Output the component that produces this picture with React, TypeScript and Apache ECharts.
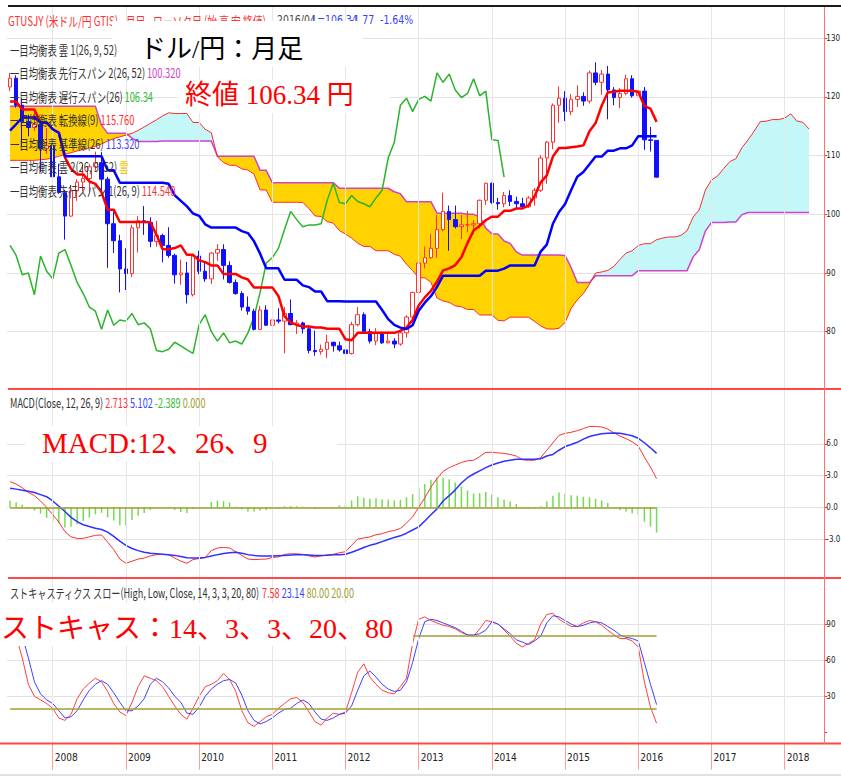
import React, { useEffect, useRef } from 'react';
import * as echarts from 'echarts';

// ---- categories: monthly, 2007-06 .. 2018-07 ----
const months: string[] = Array.from({ length: 134 }, (_, k) => {
  const m = 5 + k;
  const y = 2007 + Math.floor(m / 12);
  return `${y}-${String((m % 12) + 1).padStart(2, '0')}`;
});
const januaries = months.filter((m) => m.endsWith('-01'));

// ---- monthly candles [open, high, low, close], 2007-06 .. 2016-04 ----
const candles: number[][] = [
  // 2007
  [121.7, 124.1, 121.0, 123.2], [123.2, 123.7, 118.2, 118.6], [118.6, 119.8, 111.6, 115.8], [115.8, 117.0, 113.3, 114.8],
  [114.8, 117.9, 114.2, 115.3], [115.3, 115.5, 107.2, 111.2], [111.2, 114.7, 110.3, 111.7],
  // 2008
  [111.7, 111.8, 104.9, 106.4], [106.4, 108.6, 103.5, 103.7], [103.7, 104.2, 95.7, 99.7], [99.7, 105.0, 99.6, 104.0],
  [104.0, 106.0, 102.3, 105.5], [105.5, 108.6, 103.9, 106.1], [106.1, 108.6, 103.8, 108.1], [108.1, 110.7, 107.5, 108.8],
  [108.8, 110.6, 103.5, 106.0], [106.0, 106.4, 90.9, 98.4], [98.4, 100.5, 93.4, 95.5], [95.5, 96.5, 86.7, 90.7],
  // 2009
  [90.7, 94.2, 87.1, 89.9], [89.9, 98.2, 89.3, 97.7], [97.7, 99.7, 93.5, 98.9], [98.9, 101.4, 96.5, 98.6],
  [98.6, 99.5, 94.4, 95.4], [95.4, 98.9, 94.5, 96.4], [96.4, 96.7, 91.8, 94.7], [94.7, 97.8, 92.6, 93.0],
  [93.0, 93.3, 88.2, 89.7], [89.7, 92.3, 88.0, 90.0], [90.0, 91.9, 84.8, 86.3], [86.3, 93.2, 86.0, 92.9],
  // 2010
  [92.9, 93.8, 89.8, 90.3], [90.3, 91.9, 88.5, 89.0], [89.0, 93.6, 88.1, 93.4], [93.4, 94.9, 92.1, 94.0],
  [94.0, 94.9, 88.9, 91.3], [91.3, 92.0, 88.2, 88.4], [88.4, 88.9, 86.3, 86.5], [86.5, 86.9, 83.6, 84.2],
  [84.2, 86.0, 82.9, 83.5], [83.5, 83.9, 80.2, 80.4], [80.4, 84.4, 80.3, 83.7], [83.7, 84.5, 81.0, 81.1],
  // 2011
  [81.1, 83.7, 81.0, 82.0], [82.0, 84.0, 81.4, 81.8], [81.8, 84.2, 76.3, 83.1], [83.1, 85.5, 81.1, 81.2],
  [81.2, 82.0, 79.6, 81.5], [81.5, 81.7, 79.7, 80.5], [80.5, 81.1, 76.3, 76.8], [76.8, 80.2, 75.9, 76.6],
  [76.6, 77.8, 76.1, 77.0], [77.0, 79.5, 75.5, 78.2], [78.2, 78.3, 76.6, 77.6], [77.6, 78.3, 76.6, 76.9],
  // 2012
  [76.9, 77.5, 75.4, 76.3], [76.3, 81.7, 76.1, 81.2], [81.2, 84.2, 80.9, 82.9], [82.9, 83.3, 79.8, 80.0],
  [80.0, 80.5, 78.0, 78.4], [78.4, 80.6, 77.7, 79.8], [79.8, 80.0, 77.9, 78.1], [78.1, 79.6, 78.0, 78.4],
  [78.4, 78.9, 77.2, 77.9], [77.9, 80.4, 77.6, 79.8], [79.8, 82.8, 79.0, 82.5], [82.5, 86.8, 81.7, 86.7],
  // 2013
  [86.7, 91.8, 86.5, 91.7], [91.7, 94.5, 90.8, 92.6], [92.6, 96.7, 92.4, 94.2], [94.2, 99.9, 92.6, 97.4],
  [97.4, 103.7, 97.1, 100.5], [100.5, 101.5, 93.8, 99.1], [99.1, 101.5, 97.6, 97.9], [97.9, 99.9, 95.8, 98.2],
  [98.2, 100.6, 97.0, 98.2], [98.2, 99.0, 96.6, 98.4], [98.4, 102.5, 97.6, 102.4], [102.4, 105.4, 101.6, 105.3],
  // 2014
  [105.3, 105.4, 101.8, 102.0], [102.0, 102.8, 100.8, 101.8], [101.8, 103.8, 101.2, 103.2], [103.2, 104.1, 101.4, 102.2],
  [102.2, 103.0, 100.8, 101.8], [101.8, 102.8, 101.1, 101.3], [101.3, 103.1, 101.1, 102.8], [102.8, 104.5, 101.5, 104.1],
  [104.1, 110.1, 103.8, 109.6], [109.6, 112.5, 105.2, 112.3], [112.3, 118.9, 111.1, 118.6], [118.6, 121.8, 115.6, 119.8],
  // 2015
  [119.8, 121.0, 115.9, 117.5], [117.5, 120.5, 116.9, 119.6], [119.6, 122.0, 118.3, 120.1], [120.1, 120.8, 118.5, 119.3],
  [119.3, 124.5, 118.9, 124.1], [124.1, 125.9, 122.0, 122.5], [122.5, 124.6, 120.4, 123.9], [123.9, 125.3, 116.2, 121.2],
  [121.2, 121.7, 118.6, 119.9], [119.9, 121.5, 118.1, 120.6], [120.6, 123.8, 120.3, 123.1], [123.1, 123.7, 119.9, 120.2],
  // 2016
  [120.2, 121.7, 115.9, 121.0], [121.0, 121.7, 111.0, 112.7], [112.7, 114.9, 110.7, 112.6], [112.6, 112.6, 106.3, 106.34],
];

// ---- Ichimoku lines ----
const tenkan = [
  119.25, 119.25, 117.85, 117.85, 117.85, 115.65, 115.65, 114.5, 113.9, 109.7,
  107.75, 106.8, 106.8, 105.6, 105.2, 103.75, 100.8, 100.8, 98.7, 98.7,
  98.7, 98.7, 98.7, 98.65, 96.55, 94.05, 94.05, 94.25, 94.7, 93.1,
  93.1, 92.15, 91.85, 91.3, 91.3, 89.85, 89.85, 89.85, 89.25, 88.9,
  87.55, 87.55, 87.55, 87.55, 86.1, 82.6, 81.6, 81.15, 80.9, 80.9,
  80.7, 80.7, 80.5, 80.5, 80.5, 78.7, 78.55, 79.8, 79.8, 79.8,
  79.8, 79.8, 79.8, 79.8, 80.15, 80.7, 82.0, 84.45, 85.85, 86.95,
  88.55, 90.45, 90.8, 91.35, 92.7, 95.1, 97.25, 98.05, 99.0, 99.6,
  99.6, 100.6, 100.6, 101.0, 101.0, 101.5, 103.1, 105.45, 106.65, 109.85,
  111.3, 111.3, 111.45, 111.55, 111.75, 114.15, 115.55, 118.5, 120.75, 120.9,
  121.05, 121.05, 121.05, 120.9, 118.45, 118.0, 115.76,
];
const kijun = [
  114.25, 115.35, 116.5, 116.5, 116.5, 115.65, 115.65, 114.5, 113.9, 109.9,
  109.9, 109.9, 109.9, 109.9, 109.9, 109.9, 107.5, 107.5, 105.4, 105.4,
  105.4, 105.4, 105.4, 105.4, 105.4, 105.4, 105.2, 103.25, 102.3, 101.35,
  100.15, 99.75, 98.3, 97.75, 97.75, 97.75, 97.75, 97.75, 97.15, 96.8,
  95.4, 93.3, 90.8, 90.8, 90.8, 88.85, 88.85, 88.85, 87.9, 87.6,
  86.85, 86.85, 85.2, 85.2, 85.2, 85.15, 85.15, 85.15, 85.15, 85.15,
  85.15, 83.7, 82.15, 81.15, 80.7, 80.45, 81.1, 83.55, 84.95, 86.05,
  87.65, 89.55, 89.55, 89.55, 89.55, 89.55, 89.55, 89.55, 90.4, 90.4,
  90.4, 90.75, 91.3, 91.3, 91.3, 91.3, 91.3, 93.65, 94.85, 98.4,
  100.4, 101.75, 104.15, 106.4, 107.2, 108.55, 109.85, 109.85, 110.85, 110.85,
  111.25, 111.25, 111.75, 113.32, 113.32, 113.32, 113.32,
];
// leading spans, already shifted 25 months ahead (2007-06 .. 2018-05)
const senkouA = [
  109.2, 109.2, 109.2, 109.2, 109.2, 109.3, 109.4, 109.6, 109.9, 110.2,
  110.5, 110.8, 111.1, 111.3, 111.6, 112.0, 112.5, 112.9, 113.2, 113.5,
  113.8, 114.3, 114.9, 115.5, 116.1, 116.75, 117.3, 117.18, 117.18, 117.18,
  115.65, 115.65, 114.5, 113.9, 109.8, 108.83, 108.35, 108.35, 107.75, 107.55,
  106.83, 104.15, 104.15, 102.05, 102.05, 102.05, 102.05, 102.05, 102.03, 100.98,
  99.73, 99.63, 98.75, 98.5, 97.23, 96.63, 95.95, 95.08, 94.53, 94.53,
  93.8, 93.8, 93.8, 93.2, 92.85, 91.48, 90.43, 89.18, 89.18, 88.45,
  85.73, 85.23, 85.0, 84.4, 84.25, 83.78, 83.78, 82.85, 82.85, 82.85,
  81.93, 81.85, 82.48, 82.48, 82.48, 82.48, 81.75, 80.98, 80.48, 80.43,
  80.58, 81.55, 84.0, 85.4, 86.5, 88.1, 90.0, 90.18, 90.45, 91.13,
  92.33, 93.4, 93.8, 94.7, 95.0, 95.0, 95.68, 95.95, 96.15, 96.15,
  96.4, 97.2, 99.55, 100.75, 104.13, 105.85, 106.53, 107.8, 108.98, 109.48,
  111.35, 112.7, 114.18, 115.8, 115.88, 116.15, 116.15, 116.4, 117.13, 115.9,
  115.68, 114.54,
];
const senkouB = [
  118.4, 118.4, 118.4, 118.4, 118.4, 118.4, 118.4, 118.4, 118.4, 118.4,
  118.4, 118.4, 118.4, 118.4, 118.4, 115.2, 113.8, 113.8, 113.8, 113.8,
  113.0, 112.4, 112.4, 112.4, 112.4, 112.5, 112.5, 112.5, 112.5, 112.5,
  112.5, 112.5, 112.5, 112.5, 109.9, 109.9, 109.9, 109.9, 109.9, 109.9,
  109.9, 107.5, 107.5, 105.4, 105.4, 105.4, 105.4, 105.4, 105.4, 105.4,
  105.4, 105.4, 105.4, 105.4, 104.45, 104.45, 104.45, 104.45, 104.45, 104.45,
  104.45, 104.45, 104.45, 103.85, 103.5, 102.15, 102.15, 102.15, 102.15, 102.15,
  100.2, 100.2, 100.2, 100.2, 100.2, 100.0, 100.0, 99.6, 97.65, 96.7,
  96.65, 95.45, 95.05, 93.6, 93.05, 93.05, 93.05, 93.05, 93.05, 93.05,
  93.05, 93.0, 90.9, 88.4, 88.4, 88.4, 89.55, 89.55, 89.55, 89.55,
  89.55, 89.55, 89.55, 90.4, 90.4, 90.4, 90.4, 90.4, 90.4, 90.4,
  90.4, 90.4, 92.75, 93.95, 97.15, 98.6, 98.6, 98.6, 98.7, 98.7,
  99.95, 100.32, 100.32, 100.32, 100.32, 100.32, 100.32, 100.32, 100.32, 100.32,
  100.32, 100.32,
];

// ---- MACD (12, 26, 9) ----
const macd = [
  2.43, 2.2, 1.85, 1.4, 1.1, 0.6, 0.0, -0.7, -1.4, -2.3,
  -2.8, -2.95, -2.94, -2.8, -2.65, -2.62, -3.3, -4.0, -4.9, -5.3,
  -5.1, -4.9, -4.8, -4.6, -4.48, -4.45, -4.5, -4.8, -5.1, -5.3,
  -4.95, -4.85, -4.75, -4.1, -3.85, -3.8, -3.85, -4.2, -4.55, -4.9,
  -4.95, -4.92, -4.9, -4.75, -4.7, -4.45, -4.4, -4.4, -4.45, -4.6,
  -4.7, -4.6, -4.5, -4.45, -4.3, -4.2, -3.6, -3.0, -2.9, -2.8,
  -2.6, -2.5, -2.3, -2.2, -2.0, -1.5, -0.9, 0.0, 0.9, 1.9,
  2.7, 3.4, 3.75, 4.0, 4.25, 4.4, 4.45, 4.8, 5.2, 5.2,
  5.15, 5.1, 5.0, 4.85, 4.5, 4.45, 4.45, 4.7, 5.4, 6.1,
  6.8, 7.0, 7.1, 7.25, 7.45, 7.65, 7.65, 7.6, 7.4, 7.05,
  6.75, 6.5, 6.2, 5.8, 4.75, 3.8, 2.713,
];
const signal = [
  1.8, 1.72, 1.62, 1.52, 1.4, 1.2, 1.0, 0.6, 0.1, -0.4,
  -0.95, -1.35, -1.65, -1.82, -1.98, -2.1, -2.35, -2.75, -3.2, -3.6,
  -3.9, -4.1, -4.25, -4.35, -4.4, -4.45, -4.5, -4.55, -4.65, -4.77,
  -4.8, -4.8, -4.74, -4.6, -4.48, -4.38, -4.3, -4.26, -4.35, -4.48,
  -4.55, -4.6, -4.62, -4.61, -4.58, -4.55, -4.52, -4.5, -4.5, -4.52,
  -4.55, -4.55, -4.53, -4.5, -4.48, -4.45, -4.25, -4.04, -3.8, -3.6,
  -3.45, -3.25, -3.05, -2.85, -2.7, -2.45, -2.15, -1.85, -1.3, -0.7,
  -0.15, 0.6, 1.1, 1.65, 2.3, 2.8, 3.15, 3.45, 3.75, 4.0,
  4.2, 4.35, 4.45, 4.55, 4.55, 4.55, 4.55, 4.6, 4.85, 5.0,
  5.4, 5.75, 5.95, 6.15, 6.45, 6.7, 6.85, 6.95, 7.0, 7.02,
  7.0, 6.9, 6.77, 6.53, 6.11, 5.63, 5.102,
];
const histogram = [
  0.63, 0.48, 0.23, -0.12, -0.3, -0.6, -1.0, -1.3, -1.5, -1.9,
  -1.85, -1.6, -1.29, -0.98, -0.67, -0.52, -0.95, -1.25, -1.7, -1.7,
  -1.2, -0.8, -0.55, -0.25, -0.08, 0.0, 0.0, -0.25, -0.45, -0.53,
  -0.15, -0.05, -0.01, 0.5, 0.63, 0.58, 0.45, 0.06, -0.2, -0.42,
  -0.4, -0.32, -0.28, -0.14, -0.12, 0.1, 0.12, 0.1, 0.05, -0.08,
  -0.15, -0.05, 0.03, 0.05, 0.18, 0.25, 0.65, 1.04, 0.9, 0.8,
  0.85, 0.75, 0.75, 0.65, 0.7, 0.95, 1.25, 1.85, 2.2, 2.6,
  2.85, 2.8, 2.65, 2.35, 1.95, 1.6, 1.3, 1.35, 1.45, 1.2,
  0.95, 0.75, 0.55, 0.3, -0.05, -0.1, -0.1, 0.1, 0.55, 1.1,
  1.4, 1.25, 1.15, 1.1, 1.0, 0.95, 0.8, 0.65, 0.4, 0.03,
  -0.25, -0.4, -0.57, -0.73, -1.36, -1.83, -2.389,
];

// ---- Slow stochastics (14, 3, 3) ----
const stochK = [
  90, 80, 62, 40, 30, 27, 24, 20, 12, 10,
  15, 28, 36, 41, 45, 42, 34, 24, 17, 14,
  25, 38, 47, 45, 43, 38, 30, 22, 15, 11,
  20, 30, 38, 40, 43, 49, 44, 34, 18, 8,
  5, 9, 13, 15, 20, 24, 28, 29, 25, 17,
  9, 6, 12, 16, 15, 17, 33, 50, 57, 46,
  40, 35, 33, 32, 38, 45, 74, 94, 96, 93,
  91, 89, 88, 86, 83, 81, 80, 86, 93, 92,
  90, 85, 80, 74, 71, 74, 77, 90, 98, 99,
  94, 91, 88, 88, 91, 93, 92, 89, 85, 81,
  78, 78, 76, 71, 42, 21, 7.58,
];
const stochD = [
  92, 88, 80, 62, 42, 32, 27, 24, 18, 12,
  13, 18, 27, 35, 40, 43, 40, 33, 25, 18,
  18, 22, 28, 40, 45, 42, 37, 30, 25, 16,
  15, 21, 30, 36, 40, 43, 44, 41, 31, 18,
  10, 7, 9, 12, 16, 19, 20, 24, 27, 24,
  17, 11, 10, 12, 15, 16, 22, 35, 47, 51,
  46, 40, 36, 34, 35, 42, 58, 78, 92, 94,
  93, 91, 89, 87, 84, 81, 81, 82, 85, 92,
  90, 86, 82, 77, 75, 73, 76, 80, 91, 97,
  96, 93, 90, 88, 89, 91, 92, 91, 88, 85,
  81, 79, 78, 76, 58, 40, 23.14,
];
const stochLevels = [80, 20];

// ---- texts ----
const legendRows: [string, string, string][] = [
  ['一目均衡表 雲 1(26, 9, 52)', '', '#333'],
  ['一目均衡表 先行スパン 2(26, 52)', '100.320', '#cc44cc'],
  ['一目均衡表 遅行スパン(26)', '106.34', '#33bb33'],
  ['一目均衡表 転換線(9)', '115.760', '#ff3333'],
  ['一目均衡表 基準線(26)', '113.320', '#4444ff'],
  ['一目均衡表 雲 2(26, 9, 52)', '雲', '#f2c200'],
  ['一目均衡表 先行スパン 1(26, 9)', '114.540', '#ff3333'],
];

const FONT_NARROW = "'Liberation Sans Narrow', 'DejaVu Sans Condensed', 'Noto Sans', sans-serif";
const FONT_JP = "'Noto Sans CJK JP', 'Noto Sans', sans-serif";
const FONT_SERIF = "'Liberation Serif', 'DejaVu Serif', 'Noto Sans CJK JP', serif";

const GL = 7;
const GR = 16.7;

function buildOption() {
  const catLast = months[candles.length - 1];
  const ohlc = candles.map(([o, h, l, c]) => [o, c, l, h]);
  const closes = candles.map((d) => d[3]);
  const chikou = closes.slice(25);
  const kumoBase = senkouA.map((a, i) => Math.min(a, senkouB[i]));
  const kumo1 = senkouA.map((a, i) => Math.max(a - senkouB[i], 0));
  const kumo2 = senkouA.map((a, i) => Math.max(senkouB[i] - a, 0));
  const isJan = (_: number, v: string) => v.endsWith('-01');

  const lineS = (data: any[], color: string, width: number, xi: number, z: number, extra: any = {}) => ({
    type: 'line', data, xAxisIndex: xi, yAxisIndex: xi, symbol: 'none', showSymbol: false,
    clip: false, silent: true, z, lineStyle: { color, width }, ...extra,
  });

  const GRID_LINE = '#e3e3e3';
  const yCommon = (gi: number, min: number, max: number, interval: number, dec: number, hidden: number[] = []) => {
    const n = Math.round((max - min) / interval) + 1;
    const colors = Array.from({ length: n }, (_, k) => (hidden.includes(min + k * interval) ? 'rgba(0,0,0,0)' : GRID_LINE));
    return {
      type: 'value', gridIndex: gi, position: 'right', min, max, interval,
      axisLine: { show: false },
      axisTick: { show: true, length: 3, lineStyle: { color: '#ff3030' } },
      splitLine: { show: true, lineStyle: { color: colors, width: 1 } },
      axisLabel: {
        margin: 2, fontSize: 8, color: '#222', fontFamily: FONT_NARROW,
        formatter: (v: number) => (hidden.includes(v) ? '' : v.toFixed(dec)),
      },
    };
  };

  const graphic: any[] = [];
  const gl = (x1: number, y1: number, x2: number, y2: number, stroke: string, w: number) =>
    graphic.push({ type: 'line', silent: true, z: 90, shape: { x1, y1, x2, y2 }, style: { stroke, lineWidth: w } });
  const box = (x: number, y: number, w: number, h: number) =>
    graphic.push({ type: 'rect', silent: true, z: 95, shape: { x, y, width: w, height: h }, style: { fill: '#ffffff' } });
  const txt = (x: number, y: number, text: string, font: string, fill: string, z = 100, scaleX = 1, rich?: any) =>
    graphic.push({
      type: 'text', silent: true, z, x, y, scaleX,
      style: { text, font, fill, verticalAlign: 'middle', align: 'left', rich },
    });

  gl(8, 6, 841, 6, '#1a1a1a', 2);
  gl(8, 389, 841, 389, '#ff4848', 2);
  gl(8, 578, 841, 578, '#ff4848', 2);
  gl(0, 743.5, 841, 743.5, '#ff4848', 2);
  gl(824.5, 7, 824.5, 744, '#ff7070', 1);
  gl(0, 775, 841, 775, '#e2e2e2', 2);

  // header
  const F13 = `13px ${FONT_JP}`;
  txt(8, 20, 'GTUSJY (米ドル/円 GTIS) - 月足 - ローソク足 (始 高 安 終値)', F13, '#ff3030', 92, 0.75);
  txt(277, 20, '2016/04', `13px ${FONT_NARROW}`, '#444', 92, 0.8);
  txt(312, 20, 'L=106.34', `13px ${FONT_NARROW}`, '#3344ff', 92, 0.8);
  txt(350, 20, '-1.77', `13px ${FONT_NARROW}`, '#3344ff', 92, 0.8);
  txt(380, 20, '-1.64%', `13px ${FONT_NARROW}`, '#3344ff', 92, 0.8);

  // white annotation boxes
  box(112, 21, 250, 46);
  box(178, 80, 212, 33);
  box(25, 426, 312, 35);
  box(0, 603, 413, 43);

  // ichimoku legend
  legendRows.forEach(([label, val, color], k) => {
    txt(10, 49 + k * 23.5, val ? `{a|${label}} {b|${val}}` : `{a|${label}}`, F13, '#333', 100, 0.72, {
      a: { fill: '#333', font: F13 },
      b: { fill: color, font: F13 },
    });
  });

  // indicator headers
  txt(10, 402.5, '{a|MACD(Close, 12, 26, 9)} {r|2.713} {u|5.102} {g|-2.389} {o|0.000}', F13, '#333', 100, 0.7, {
    a: { fill: '#333', font: F13 }, r: { fill: '#ff3030', font: F13 },
    u: { fill: '#3344ff', font: F13 }, g: { fill: '#33bb33', font: F13 },
    o: { fill: '#a0a030', font: F13 },
  });
  txt(10, 592, '{a|ストキャスティクス スロー(High, Low, Close, 14, 3, 3, 20, 80)} {r|7.58} {u|23.14} {o|80.00} {o|20.00}', F13, '#333', 100, 0.7, {
    a: { fill: '#333', font: F13 }, r: { fill: '#ff3030', font: F13 },
    u: { fill: '#3344ff', font: F13 }, o: { fill: '#a0a030', font: F13 },
  });

  // big annotations
  txt(140, 49, 'ドル/円：月足', `26px ${FONT_SERIF}`, '#000');
  txt(185, 95, '終値 106.34 円', `27px ${FONT_SERIF}`, '#ff0000');
  txt(42, 443, 'MACD:12、26、9', `29px ${FONT_SERIF}`, '#ff0000');
  txt(1, 628, 'ストキャス：14、3、3、20、80', `28px ${FONT_SERIF}`, '#ff0000');

  const gridBase = { left: GL, right: GR, containLabel: false, outerBoundsMode: 'none' };

  return {
    animation: false,
    backgroundColor: '#ffffff',
    grid: [
      { ...gridBase, top: 7, height: 736.7 },
      { ...gridBase, top: 38.3, height: 293.4 },
      { ...gridBase, top: 443.9, height: 95.1 },
      { ...gridBase, top: 624.1, height: 108.3 },
    ],
    xAxis: [
      {
        type: 'category', gridIndex: 0, data: months, position: 'bottom',
        axisLine: { show: false },
        axisTick: { show: true, alignWithLabel: true, interval: isJan, length: 26, lineStyle: { color: '#ff9c9c' } },
        axisLabel: {
          interval: isJan, formatter: (v: string) => v.slice(0, 4), align: 'left', margin: 9,
          fontSize: 10, color: '#222', fontFamily: FONT_NARROW, padding: [0, 0, 0, 2],
        },
        splitLine: { show: false },
      },
      { type: 'category', gridIndex: 1, data: months, show: false },
      { type: 'category', gridIndex: 2, data: months, show: false },
      { type: 'category', gridIndex: 3, data: months, show: false },
    ],
    yAxis: [
      { type: 'value', gridIndex: 0, show: false, min: 0, max: 1 },
      yCommon(1, 80, 130, 10, 0),
      yCommon(2, -3, 6, 3, 1),
      yCommon(3, 0, 90, 30, 0, [0]),
    ],
    graphic,
    series: [
      {
        type: 'line', xAxisIndex: 0, yAxisIndex: 0, data: [], silent: true, z: 0,
        markLine: {
          silent: true, symbol: ['none', 'none'], label: { show: false }, animation: false,
          lineStyle: { color: '#e6e6e6', width: 1, type: 'solid' },
          data: januaries.map((m) => ({ xAxis: m })),
        },
      },
      // kumo
      lineS(kumoBase, 'rgba(0,0,0,0)', 0, 1, 1, { stack: 'kumo', stackStrategy: 'all' }),
      lineS(kumo1, 'rgba(0,0,0,0)', 0, 1, 1, { stack: 'kumo', stackStrategy: 'all', areaStyle: { color: '#c4f8f8', opacity: 1 } }),
      lineS(kumo2, 'rgba(0,0,0,0)', 0, 1, 1, { stack: 'kumo', stackStrategy: 'all', areaStyle: { color: '#ffd200', opacity: 1 } }),
      lineS(senkouB, '#cc44cc', 1.5, 1, 2),
      lineS(senkouA, '#ff2a2a', 1, 1, 2),
      lineS(chikou, '#2ab42a', 1.5, 1, 3),
      {
        type: 'candlestick', xAxisIndex: 1, yAxisIndex: 1, data: ohlc, barWidth: 4, clip: false, silent: true, z: 4,
        itemStyle: { color: '#ffffff', color0: '#1010ff', borderColor: '#ff3030', borderColor0: '#1010ff', borderWidth: 1 },
      },
      lineS(tenkan, '#ff0000', 2.5, 1, 5),
      lineS(kijun, '#0000ff', 2.5, 1, 5),
      // MACD
      {
        type: 'bar', xAxisIndex: 2, yAxisIndex: 2, data: histogram, barWidth: 1.5, clip: false, silent: true, z: 2,
        itemStyle: { color: '#72dc50' },
        markLine: {
          silent: true, symbol: ['none', 'none'], label: { show: false }, animation: false,
          lineStyle: { color: '#a0a030', width: 1.5, type: 'solid' },
          data: [[{ coord: [months[0], 0] }, { coord: [catLast, 0] }]],
        },
      },
      lineS(macd, '#ff3030', 1, 2, 3),
      lineS(signal, '#3030ff', 1.5, 2, 3),
      // Stochastics
      lineS(stochK, '#ff4040', 1, 3, 3, {
        markLine: {
          silent: true, symbol: ['none', 'none'], label: { show: false }, animation: false,
          lineStyle: { color: '#a0a030', width: 1.5, type: 'solid' },
          data: stochLevels.map((lv) => [{ coord: [months[0], lv] }, { coord: [catLast, lv] }]),
        },
      }),
      lineS(stochD, '#4040ff', 1, 3, 3),
    ],
  };
}

export default function App() {
  const ref = useRef<HTMLDivElement>(null);
  useEffect(() => {
    if (!ref.current) return;
    const chart = echarts.init(ref.current, undefined, { renderer: 'svg' });
    chart.setOption(buildOption() as any);
    return () => chart.dispose();
  }, []);
  return <div ref={ref} style={{ position: 'absolute', left: 0, top: 0, width: 841, height: 776 }} />;
}
